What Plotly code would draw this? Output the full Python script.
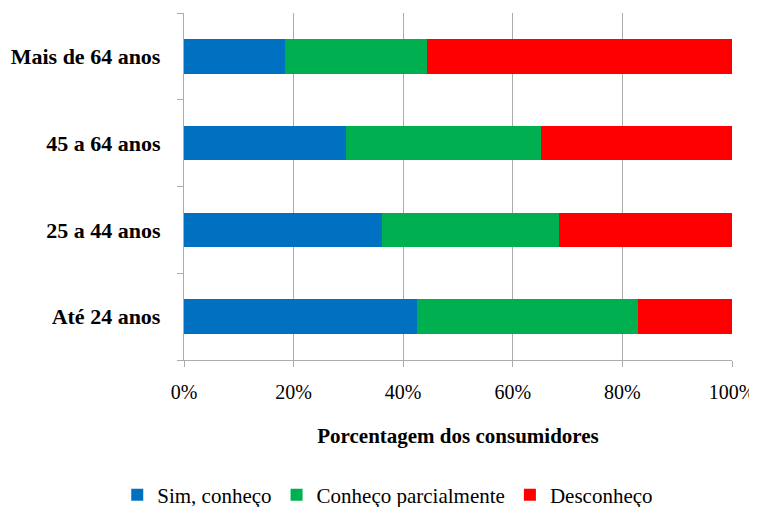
import plotly.graph_objects as go

categories = ["Até 24 anos", "25 a 44 anos", "45 a 64 anos", "Mais de 64 anos"]
sim = [42.5, 36.1, 29.6, 18.5]
parcial = [40.3, 32.4, 35.6, 25.8]
desconheco = [17.2, 31.5, 34.8, 55.7]
series_names = ["Sim, conheço", "Conheço parcialmente", "Desconheço"]
colors = ["#0070C0", "#00B050", "#FF0000"]

font_family = "Liberation Serif, DejaVu Serif, serif"

fig = go.Figure()
for name, vals, col in zip(series_names, [sim, parcial, desconheco], colors):
    fig.add_trace(go.Bar(
        y=categories, x=vals, name=name, orientation="h",
        marker=dict(color=col, line=dict(width=0)),
    ))

fig.update_layout(
    barmode="stack",
    bargap=0.6,
    width=749, height=499,
    margin=dict(l=176, r=25, t=5, b=147),
    plot_bgcolor="white", paper_bgcolor="white",
    font=dict(family=font_family, size=21, color="black"),
    showlegend=True,
    legend=dict(
        orientation="h", xref="container", yref="container",
        x=0.507, xanchor="center", y=0.024, yanchor="middle",
        font=dict(family=font_family, size=21, color="black"),
        traceorder="normal", itemwidth=30,
    ),
    xaxis=dict(
        range=[0, 100], tickvals=[0, 20, 40, 60, 80, 100],
        ticktext=["0%", "20%", "40%", "60%", "80%", "100%"],
        tickfont=dict(family=font_family, size=20),
        showgrid=True, gridcolor="#ABABAB", gridwidth=1.3,
        showline=True, linecolor="#ABABAB", linewidth=1.3,
        ticks="outside", ticklen=6, tickcolor="#ABABAB",
        zeroline=False, automargin=False,
        title=dict(text="<b>Porcentagem dos consumidores</b>", standoff=26,
                   font=dict(family=font_family, size=21)),
        ticklabelstandoff=8,
    ),
    yaxis=dict(
        showgrid=False, showline=True, linecolor="#ABABAB", linewidth=1.3,
        ticks="outside", ticklen=6, tickcolor="#ABABAB",
        tickson="boundaries", automargin=False,
        tickfont=dict(family=font_family, size=22, weight="bold"),
        ticklabelstandoff=18,
    ),
)

fig.write_html("out.html")
